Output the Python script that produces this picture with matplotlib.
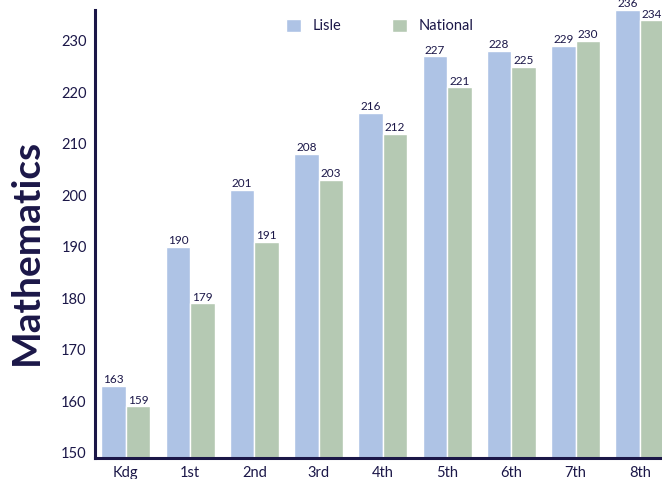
import numpy as np
import matplotlib.pyplot as plt

grades = ['Kdg', '1st', '2nd', '3rd', '4th', '5th', '6th', '7th', '8th']
lisle = [163, 190, 201, 208, 216, 227, 228, 229, 236]
national = [159, 179, 191, 203, 212, 221, 225, 230, 234]

navy = '#1b1748'
blue = '#aec3e5'
green = '#b5c9b3'

plt.rcParams['font.family'] = ['Lato', 'DejaVu Sans']

fig = plt.figure(figsize=(6.62, 4.79), dpi=100)
ax = fig.add_axes([0.1435, 0.044, 0.86, 0.935])

x = np.arange(len(grades))
w = 0.38
b1 = ax.bar(x - w / 2, lisle, w, color=blue, edgecolor='white', linewidth=1, label='Lisle')
b2 = ax.bar(x + w / 2, national, w, color=green, edgecolor='white', linewidth=1, label='National')

for bars, vals in ((b1, lisle), (b2, national)):
    for r, v in zip(bars, vals):
        ax.text(r.get_x() + r.get_width() / 2, v + 0.15, str(v), ha='center', va='bottom',
                fontsize=8.5, color=navy, clip_on=False)

ax.set_ylim(149, 236)
ax.set_xlim(-0.48, 8.38)
ax.set_xticks(x)
ax.set_xticklabels(grades)
ax.set_yticks(range(150, 231, 10))
ax.tick_params(length=0, labelsize=10.5, labelcolor=navy, pad=6)
for s in ('top', 'right'):
    ax.spines[s].set_visible(False)
for s in ('left', 'bottom'):
    ax.spines[s].set_color(navy)
    ax.spines[s].set_linewidth(2.2)

ax.set_ylabel('Mathematics', fontsize=28, fontweight='bold', color=navy)
ax.yaxis.set_label_coords(-0.09, 0.46)

ax.legend(loc='upper center', bbox_to_anchor=(0.5, 1.01), ncol=2, frameon=False,
          fontsize=10.5, labelcolor=navy, handlelength=1.0, handleheight=1.0,
          columnspacing=3.5, handletextpad=0.8)

fig.savefig('out.png', dpi=100)
